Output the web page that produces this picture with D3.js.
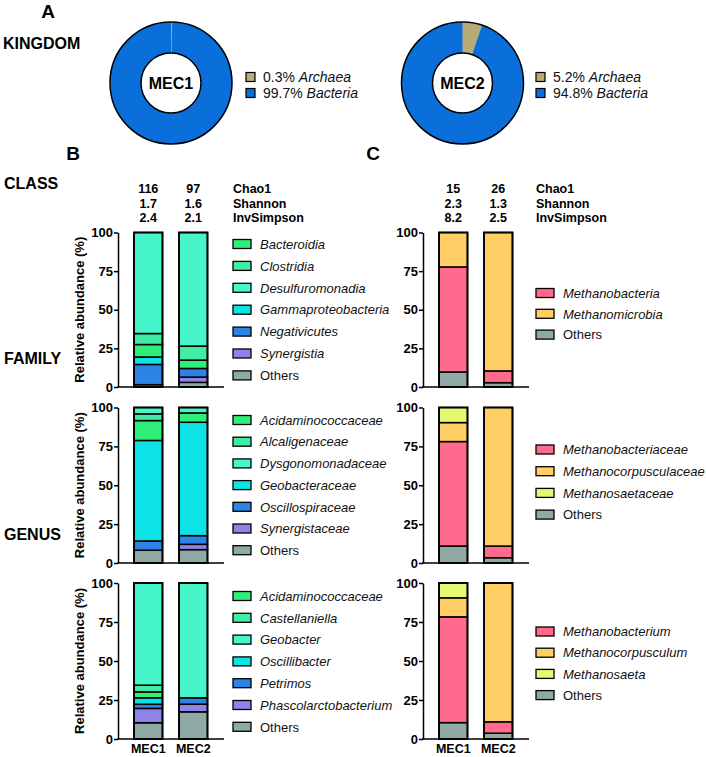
<!DOCTYPE html>
<html>
<head>
<meta charset="utf-8">
<script src="https://cdn.jsdelivr.net/npm/d3@7"></script>
<style>
  html, body { margin: 0; padding: 0; background: #fff; }
  svg { display: block; }
</style>
</head>
<body>
<svg id="chart" width="706" height="757"></svg>
<script>
// ---------------- DATA ----------------
const samples = ["MEC1", "MEC2"];
const yTicks = [0, 25, 50, 75, 100];

const kingdomNames = ["Archaea", "Bacteria"];
const kingdomMEC1 = [0.3, 99.7];
const kingdomMEC2 = [5.2, 94.8];

const diversityLabels = ["Chao1", "Shannon", "InvSimpson"];
const bacChao1 = [116, 97];
const bacShannon = [1.7, 1.6];
const bacInvSimpson = [2.4, 2.1];
const archChao1 = [15, 26];
const archShannon = [2.3, 1.3];
const archInvSimpson = [8.2, 2.5];

const bacClassNames = ["Bacteroidia", "Clostridia", "Desulfuromonadia", "Gammaproteobacteria", "Negativicutes", "Synergistia", "Others"];
const bacClassMEC1 = [8.1, 7.1, 65.4, 4.8, 13.1, 0, 1.5];
const bacClassMEC2 = [5.4, 9.1, 73.5, 0, 5.6, 3.4, 3.0];

const bacFamilyNames = ["Acidaminococcaceae", "Alcaligenaceae", "Dysgonomonadaceae", "Geobacteraceae", "Oscillospiraceae", "Synergistaceae", "Others"];
const bacFamilyMEC1 = [12.8, 4.3, 4.1, 64.6, 6.0, 0, 8.2];
const bacFamilyMEC2 = [6.0, 0, 3.5, 72.9, 5.6, 3.4, 8.6];

const bacGenusNames = ["Acidaminococcaceae", "Castellaniella", "Geobacter", "Oscillibacter", "Petrimos", "Phascolarctobacterium", "Others"];
const bacGenusMEC1 = [3.8, 4.3, 65.5, 4.1, 2.7, 9.2, 10.4];
const bacGenusMEC2 = [0, 0, 73.6, 0, 4.1, 4.9, 17.4];

const archClassNames = ["Methanobacteria", "Methanomicrobia", "Others"];
const archClassMEC1 = [68.0, 22.3, 9.7];
const archClassMEC2 = [7.6, 89.6, 2.8];

const archFamilyNames = ["Methanobacteriaceae", "Methanocorpusculaceae", "Methanosaetaceae", "Others"];
const archFamilyMEC1 = [67.2, 12.2, 9.7, 10.9];
const archFamilyMEC2 = [7.5, 89.1, 0, 3.4];

const archGenusNames = ["Methanobacterium", "Methanocorpusculum", "Methanosaeta", "Others"];
const archGenusMEC1 = [67.8, 12.2, 9.5, 10.5];
const archGenusMEC2 = [7.3, 89.0, 0, 3.7];

// stacking order, bottom to top (indices into the name arrays)
const bacStackOrder = [6, 5, 4, 3, 0, 1, 2];
const arch3StackOrder = [2, 0, 1];
const arch4StackOrder = [3, 0, 1, 2];

// ---------------- STYLE ----------------
const FONT = "'Liberation Sans', Arial, Helvetica, sans-serif";
const kingdomColors = ["#B5AC78", "#0B6FDB"];
const bacColors = ["#2FEF78", "#44EBA4", "#46F5CA", "#0DE3E6", "#2B84E4", "#8E84E8", "#8FA9A4"];
const arch4Colors = ["#FF6A8D", "#FFCF66", "#E6F872", "#8FA9A4"];
const arch3Colors = ["#FF6A8D", "#FFCF66", "#8FA9A4"];

const svg = d3.select("#chart").style("font-family", FONT);

function boldText(x, y, txt, size, anchor) {
  return svg.append("text").attr("x", x).attr("y", y)
    .attr("font-size", size).attr("font-weight", "bold")
    .attr("text-anchor", anchor || "start").attr("fill", "#000").text(txt);
}

// ---------------- PANEL A ----------------
boldText(48, 18, "A", 19, "middle");
boldText(3, 49, "KINGDOM", 16);

function donut(cx, cy, label, values, legendX) {
  const g = svg.append("g").attr("transform", `translate(${cx},${cy})`);
  const pie = d3.pie().sort(null).value(d => d)(values);
  const arc = d3.arc().innerRadius(30).outerRadius(61);
  g.selectAll("path.slice").data(pie).enter().append("path")
    .attr("d", arc).attr("fill", (d, i) => kingdomColors[i])
    .attr("stroke", (d, i) => i === 0 ? kingdomColors[0] : "none").attr("stroke-width", 0.8);
  g.append("circle").attr("r", 61).attr("fill", "none").attr("stroke", "#000").attr("stroke-width", 1.5);
  g.append("circle").attr("r", 30).attr("fill", "#fff").attr("stroke", "#000").attr("stroke-width", 1.5);
  g.append("text").attr("y", 6).attr("text-anchor", "middle")
    .attr("font-size", 16).attr("font-weight", "bold").text(label);
  // legend
  values.forEach((v, i) => {
    const ly = cy - 6 + i * 16;
    svg.append("rect").attr("x", legendX).attr("y", ly - 4.5).attr("width", 9).attr("height", 9)
      .attr("fill", kingdomColors[i]).attr("stroke", "#000").attr("stroke-width", 1.2);
    const t = svg.append("text").attr("x", legendX + 17).attr("y", ly + 5)
      .attr("font-size", 14).attr("fill", "#111");
    t.append("tspan").text(v + "% ");
    t.append("tspan").attr("font-style", "italic").text(kingdomNames[i]);
  });
}
donut(171, 83, samples[0], kingdomMEC1, 246);
donut(462.5, 83, samples[1], kingdomMEC2, 536);

// ---------------- PANELS B & C ----------------
boldText(73, 160, "B", 19, "middle");
boldText(373, 160, "C", 19, "middle");

const rows = [
  { label: "CLASS", y100: 232.5, y0: 387, labelY: 189 },
  { label: "FAMILY", y100: 407.5, y0: 563, labelY: 364 },
  { label: "GENUS", y100: 583, y0: 739, labelY: 540 }
];
rows.forEach(r => boldText(4, r.labelY, r.label, 16));

function diversity(axisX, legendX, chao, shannon, invs) {
  const x = d3.scaleBand().domain(samples).range([axisX + 8, axisX + 97.5]).paddingInner(0.367).paddingOuter(0.178);
  const vals = [chao, shannon, invs];
  const ys = [193, 207.5, 222];
  vals.forEach((arr, k) => {
    samples.forEach((s, j) => {
      boldText(x(s) + x.bandwidth() / 2, ys[k], (k === 0 ? arr[j] : arr[j].toFixed(1)), 12.5, "middle");
    });
    boldText(legendX, ys[k], diversityLabels[k], 12.5);
  });
}
diversity(118, 233, bacChao1, bacShannon, bacInvSimpson);
diversity(423, 536, archChao1, archShannon, archInvSimpson);

function stackedPanel(opt) {
  const { axisX, row, names, mec1, mec2, order, colors, legendX, legendTop, legendStep, yLabel, xLabels } = opt;
  const g = svg.append("g");
  const y = d3.scaleLinear().domain([0, 100]).range([row.y0, row.y100]);
  const x = d3.scaleBand().domain(samples).range([axisX + 8, axisX + 97.5]).paddingInner(0.367).paddingOuter(0.178);
  const series = [mec1, mec2];

  samples.forEach((s, j) => {
    let cum = 0;
    order.forEach(idx => {
      const v = series[j][idx];
      if (v <= 0) return;
      g.append("rect")
        .attr("x", x(s)).attr("width", x.bandwidth())
        .attr("y", y(cum + v)).attr("height", y(cum) - y(cum + v))
        .attr("fill", colors[idx]).attr("stroke", "#000").attr("stroke-width", 1.5);
      cum += v;
    });
    g.append("rect").attr("x", x(s)).attr("width", x.bandwidth())
      .attr("y", y(100)).attr("height", y(0) - y(100))
      .attr("fill", "none").attr("stroke", "#000").attr("stroke-width", 1.8);
  });

  // y axis
  const ax = g.append("g").attr("transform", `translate(${axisX},0)`)
    .call(d3.axisLeft(y).tickValues(yTicks).tickSize(4).tickPadding(1).tickSizeOuter(0));
  ax.select(".domain").attr("stroke", "#000").attr("stroke-width", 1.5);
  ax.selectAll(".tick line").attr("stroke", "#000").attr("stroke-width", 1.5);
  ax.selectAll(".tick text").attr("font-family", FONT).attr("font-size", 13)
    .attr("font-weight", "bold").attr("fill", "#000");
  // x axis baseline
  g.append("line").attr("x1", axisX - 0.75).attr("x2", axisX + 106)
    .attr("y1", y(0)).attr("y2", y(0)).attr("stroke", "#000").attr("stroke-width", 1.5);

  if (yLabel) {
    g.append("text").attr("transform", `translate(84,${(row.y0 + row.y100) / 2}) rotate(-90)`)
      .attr("text-anchor", "middle").attr("font-size", 13).attr("font-weight", "bold")
      .text("Relative abundance (%)");
  }
  if (xLabels) {
    samples.forEach(s => {
      g.append("text").attr("x", x(s) + x.bandwidth() / 2).attr("y", 753)
        .attr("text-anchor", "middle").attr("font-size", 12.5).attr("font-weight", "bold").text(s);
    });
  }

  // legend
  names.forEach((n, i) => {
    const cy = row.y100 + legendTop + i * legendStep;
    g.append("rect").attr("x", legendX).attr("y", cy - 4.5).attr("width", 18).attr("height", 9)
      .attr("fill", colors[i]).attr("stroke", "#000").attr("stroke-width", 1.3);
    g.append("text").attr("x", legendX + 27).attr("y", cy + 4.7)
      .attr("font-size", 13).attr("fill", "#111")
      .attr("font-style", n === "Others" ? "normal" : "italic").text(n);
  });
}

// B
stackedPanel({ axisX: 118, row: rows[0], names: bacClassNames, mec1: bacClassMEC1, mec2: bacClassMEC2, order: bacStackOrder, colors: bacColors, legendX: 233, legendTop: 11.5, legendStep: 21.9, yLabel: true, xLabels: false });
stackedPanel({ axisX: 118, row: rows[1], names: bacFamilyNames, mec1: bacFamilyMEC1, mec2: bacFamilyMEC2, order: bacStackOrder, colors: bacColors, legendX: 233, legendTop: 12.5, legendStep: 21.7, yLabel: true, xLabels: false });
stackedPanel({ axisX: 118, row: rows[2], names: bacGenusNames, mec1: bacGenusMEC1, mec2: bacGenusMEC2, order: bacStackOrder, colors: bacColors, legendX: 233, legendTop: 13, legendStep: 21.8, yLabel: true, xLabels: true });

// C
stackedPanel({ axisX: 423, row: rows[0], names: archClassNames, mec1: archClassMEC1, mec2: archClassMEC2, order: arch3StackOrder, colors: arch3Colors, legendX: 536, legendTop: 60.5, legendStep: 20.8, yLabel: false, xLabels: false });
stackedPanel({ axisX: 423, row: rows[1], names: archFamilyNames, mec1: archFamilyMEC1, mec2: archFamilyMEC2, order: arch4StackOrder, colors: arch4Colors, legendX: 536, legendTop: 42, legendStep: 21.7, yLabel: false, xLabels: false });
stackedPanel({ axisX: 423, row: rows[2], names: archGenusNames, mec1: archGenusMEC1, mec2: archGenusMEC2, order: arch4StackOrder, colors: arch4Colors, legendX: 536, legendTop: 48.5, legendStep: 21.2, yLabel: false, xLabels: true });
</script>
</body>
</html>
